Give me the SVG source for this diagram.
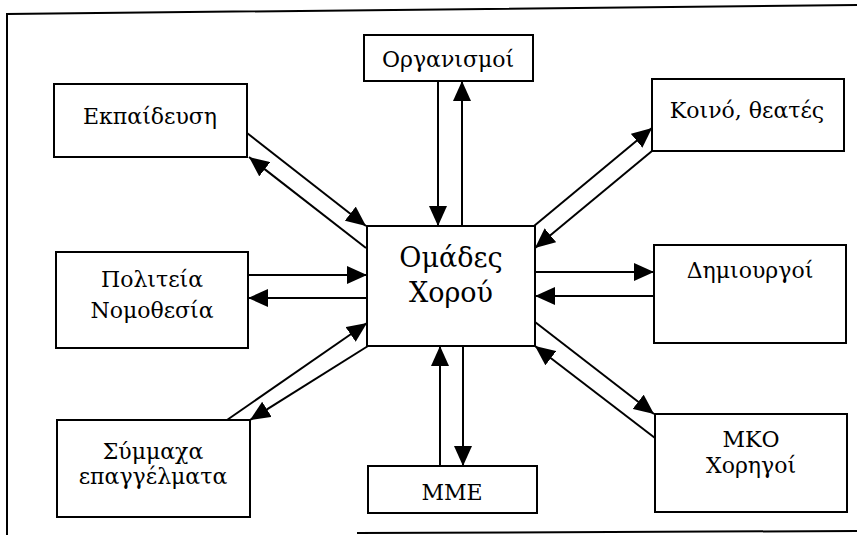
<svg xmlns="http://www.w3.org/2000/svg" width="857" height="535" viewBox="0 0 857 535">
<style>
.box{fill:#fff;stroke:#000;stroke-width:2}
.t{font-family:"DejaVu Serif",serif;font-size:22px;fill:#000;text-anchor:middle}
.tc{font-family:"DejaVu Serif",serif;font-size:27px;fill:#000;text-anchor:middle}
.c{stroke:#000;stroke-width:2;fill:none;marker-end:url(#ah)}
.frame{stroke:#000;stroke-width:2;fill:none}
</style>
<defs>
<marker id="ah" viewBox="0 0 20 18" markerWidth="20" markerHeight="18" refX="20" refY="9" orient="auto" markerUnits="userSpaceOnUse">
<path d="M0,0 L20,9 L0,18 z" fill="#000"/>
</marker>
</defs>
<rect width="857" height="535" fill="#fff"/>
<g id="frame">
<polyline class="frame" points="857,5 7,14 7,535"/>
<line class="frame" x1="357" y1="533" x2="857" y2="531" stroke-width="1.5"/>
</g>
<g id="connectors">
<line class="c" x1="247" y1="133" x2="366" y2="226"/>
<line class="c" x1="366" y1="248" x2="249" y2="157"/>
<line class="c" x1="438" y1="81" x2="438" y2="226"/>
<line class="c" x1="462" y1="226" x2="462" y2="81"/>
<line class="c" x1="534" y1="226" x2="652" y2="128"/>
<line class="c" x1="652" y1="151" x2="535" y2="248"/>
<line class="c" x1="535" y1="272" x2="654" y2="272"/>
<line class="c" x1="654" y1="296" x2="535" y2="296"/>
<line class="c" x1="535" y1="322" x2="654" y2="414"/>
<line class="c" x1="655" y1="438" x2="535" y2="346"/>
<line class="c" x1="440" y1="466" x2="440" y2="346"/>
<line class="c" x1="463" y1="346" x2="463" y2="466"/>
<line class="c" x1="248" y1="275" x2="367" y2="275"/>
<line class="c" x1="367" y1="298" x2="248" y2="298"/>
<line class="c" x1="227" y1="420" x2="367" y2="323"/>
<line class="c" x1="368" y1="346" x2="250" y2="420"/>
</g>
<g id="center">
<rect class="box" x="367" y="226" width="168" height="120"/>
<text class="tc" x="451" y="267">Ομάδες</text>
<text class="tc" x="451" y="302">Χορού</text>
</g>
<g id="ekpaideusi">
<rect class="box" x="54" y="84" width="193" height="73"/>
<text class="t" x="150" y="124">Εκπαίδευση</text>
</g>
<g id="organismoi">
<rect class="box" x="364" y="35" width="169" height="46"/>
<text class="t" x="448" y="67">Οργανισμοί</text>
</g>
<g id="koino">
<rect class="box" x="652" y="79" width="192" height="72"/>
<text class="t" x="747" y="118">Κοινό, θεατές</text>
</g>
<g id="politeia">
<rect class="box" x="56" y="252" width="192" height="96"/>
<text class="t" x="152" y="287">Πολιτεία</text>
<text class="t" x="152" y="318">Νομοθεσία</text>
</g>
<g id="dimiourgoi">
<rect class="box" x="654" y="245" width="192" height="98"/>
<text class="t" x="750" y="278">Δημιουργοί</text>
</g>
<g id="symmaxa">
<rect class="box" x="57" y="420" width="193" height="97"/>
<text class="t" x="153" y="459">Σύμμαχα</text>
<text class="t" x="153" y="484">επαγγέλματα</text>
</g>
<g id="mme">
<rect class="box" x="368" y="466" width="169" height="47"/>
<text class="t" x="452" y="500">ΜΜΕ</text>
</g>
<g id="mko">
<rect class="box" x="655" y="414" width="192" height="98"/>
<text class="t" x="751" y="447">ΜΚΟ</text>
<text class="t" x="751" y="473">Χορηγοί</text>
</g>
</svg>
